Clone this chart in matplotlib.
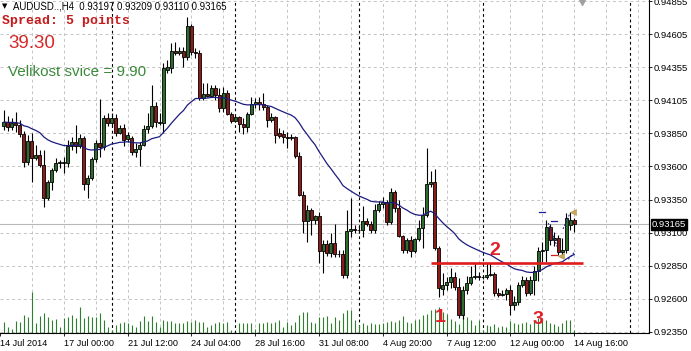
import numpy as np
import pandas as pd
import matplotlib.pyplot as plt
from matplotlib.patches import Rectangle
from matplotlib.transforms import blended_transform_factory

# AUDUSD H4, bars from 14 Jul 2014 12:00 to 14 Aug 2014 16:00 (prices)
opens = [0.93909, 0.93939, 0.93902, 0.93932, 0.93917, 0.93849, 0.93637, 0.93796, 0.93667, 0.93690,
         0.93614, 0.93364, 0.93485, 0.93576, 0.93629, 0.93637, 0.93629, 0.93758, 0.93788, 0.93758,
         0.93818, 0.93470, 0.93515, 0.93659, 0.93780, 0.93750, 0.93970, 0.93932, 0.93970, 0.93856,
         0.93894, 0.93811, 0.93818, 0.93712, 0.93735, 0.93765, 0.93886, 0.93909, 0.94061, 0.93939,
         0.93932, 0.94333, 0.94348, 0.94477, 0.94462, 0.94477, 0.94431, 0.94666, 0.94469, 0.94462,
         0.94121, 0.94151, 0.94136, 0.94197, 0.94144, 0.94045, 0.94159, 0.94000, 0.93947, 0.93977,
         0.93924, 0.93902, 0.94000, 0.94076, 0.94091, 0.94076, 0.94053, 0.93955, 0.93977, 0.93856,
         0.93849, 0.93826, 0.93818, 0.93826, 0.93682, 0.93387, 0.93190, 0.93273, 0.93198, 0.93228,
         0.92963, 0.93016, 0.92948, 0.93023, 0.92940, 0.92940, 0.92781, 0.93114, 0.93129, 0.93122,
         0.93122, 0.93190, 0.93167, 0.93122, 0.93273, 0.93319, 0.93334, 0.93182, 0.93410, 0.93288,
         0.93076, 0.92970, 0.93046, 0.92963, 0.93054, 0.93137, 0.93235, 0.93470, 0.93485, 0.92986,
         0.92675, 0.92706, 0.92728, 0.92766, 0.92690, 0.92478, 0.92668, 0.92721, 0.92766, 0.92774,
         0.92766, 0.92766, 0.92781, 0.92789, 0.92645, 0.92630, 0.92637, 0.92668, 0.92554, 0.92577,
         0.92706, 0.92743, 0.92645, 0.92743, 0.92811, 0.92963, 0.92970, 0.93145, 0.93046, 0.93061,
         0.92955, 0.92970, 0.93160, 0.93197]
highs = [0.94030, 0.93985, 0.93970, 0.94015, 0.93955, 0.93871, 0.93841, 0.93856, 0.93765, 0.93727,
         0.93727, 0.93500, 0.93591, 0.93667, 0.93652, 0.93674, 0.93803, 0.93826, 0.93917, 0.93849,
         0.93833, 0.93538, 0.93674, 0.93803, 0.94114, 0.93992, 0.94008, 0.94008, 0.94000, 0.93917,
         0.93924, 0.93864, 0.93833, 0.93780, 0.93788, 0.93917, 0.94008, 0.94220, 0.94091, 0.94008,
         0.94386, 0.94409, 0.94537, 0.94545, 0.94507, 0.94507, 0.94734, 0.94681, 0.94500, 0.94484,
         0.94235, 0.94235, 0.94220, 0.94220, 0.94197, 0.94204, 0.94182, 0.94015, 0.93992, 0.93985,
         0.93970, 0.94015, 0.94129, 0.94121, 0.94129, 0.94159, 0.94068, 0.94008, 0.93985, 0.93894,
         0.93879, 0.93864, 0.93849, 0.93833, 0.93712, 0.93417, 0.93311, 0.93288, 0.93235, 0.93258,
         0.93046, 0.93046, 0.93099, 0.93167, 0.92970, 0.92970, 0.93273, 0.93364, 0.93160, 0.93152,
         0.93304, 0.93213, 0.93190, 0.93319, 0.93341, 0.93372, 0.93349, 0.93440, 0.93425, 0.93349,
         0.93084, 0.93061, 0.93076, 0.93061, 0.93198, 0.93296, 0.93743, 0.93568, 0.93584, 0.93001,
         0.92796, 0.92766, 0.92834, 0.92804, 0.92758, 0.92698, 0.92774, 0.92849, 0.92872, 0.92804,
         0.92781, 0.92872, 0.92872, 0.92804, 0.92683, 0.92668, 0.92683, 0.92706, 0.92622, 0.92728,
         0.92774, 0.92766, 0.92774, 0.92849, 0.92993, 0.93031, 0.93198, 0.93167, 0.93107, 0.93084,
         0.93061, 0.93251, 0.93258, 0.93209]
lows = [0.93879, 0.93871, 0.93879, 0.93864, 0.93826, 0.93599, 0.93614, 0.93485, 0.93652, 0.93599,
        0.93296, 0.93349, 0.93425, 0.93561, 0.93591, 0.93553, 0.93599, 0.93727, 0.93705, 0.93743,
        0.93425, 0.93364, 0.93500, 0.93637, 0.93674, 0.93727, 0.93909, 0.93909, 0.93833, 0.93849,
        0.93758, 0.93788, 0.93690, 0.93674, 0.93606, 0.93758, 0.93856, 0.93894, 0.93902, 0.93917,
        0.93856, 0.94310, 0.94310, 0.94447, 0.94447, 0.94356, 0.94409, 0.94447, 0.94424, 0.94106,
        0.94106, 0.94129, 0.94129, 0.94106, 0.94015, 0.94015, 0.93992, 0.93932, 0.93939, 0.93864,
        0.93849, 0.93864, 0.93992, 0.94045, 0.94030, 0.94030, 0.93902, 0.93939, 0.93780, 0.93818,
        0.93780, 0.93743, 0.93803, 0.93667, 0.93379, 0.93099, 0.93031, 0.93084, 0.93167, 0.92872,
        0.92796, 0.92925, 0.92917, 0.92917, 0.92917, 0.92758, 0.92758, 0.93069, 0.93099, 0.93099,
        0.93069, 0.93152, 0.93099, 0.93099, 0.93258, 0.93288, 0.93160, 0.93167, 0.93258, 0.93069,
        0.92948, 0.92948, 0.92917, 0.92948, 0.93039, 0.92986, 0.93220, 0.93447, 0.92970, 0.92615,
        0.92630, 0.92668, 0.92683, 0.92668, 0.92456, 0.92448, 0.92637, 0.92706, 0.92751, 0.92743,
        0.92751, 0.92751, 0.92774, 0.92622, 0.92615, 0.92622, 0.92592, 0.92478, 0.92516, 0.92554,
        0.92690, 0.92622, 0.92630, 0.92630, 0.92736, 0.92880, 0.92880, 0.93008, 0.93001, 0.92933,
        0.92917, 0.92948, 0.93122, 0.93110]
closes = [0.93939, 0.93902, 0.93932, 0.93917, 0.93849, 0.93637, 0.93796, 0.93667, 0.93690, 0.93614,
          0.93364, 0.93485, 0.93576, 0.93629, 0.93637, 0.93629, 0.93758, 0.93788, 0.93758, 0.93818,
          0.93470, 0.93515, 0.93659, 0.93780, 0.93750, 0.93970, 0.93932, 0.93970, 0.93856, 0.93894,
          0.93803, 0.93841, 0.93712, 0.93735, 0.93765, 0.93886, 0.93909, 0.94061, 0.93939, 0.93932,
          0.94348, 0.94356, 0.94477, 0.94462, 0.94477, 0.94431, 0.94666, 0.94469, 0.94462, 0.94121,
          0.94151, 0.94136, 0.94197, 0.94144, 0.94045, 0.94159, 0.94000, 0.93947, 0.93977, 0.93924,
          0.93902, 0.94000, 0.94076, 0.94091, 0.94076, 0.94053, 0.93955, 0.93977, 0.93841, 0.93833,
          0.93826, 0.93818, 0.93826, 0.93682, 0.93387, 0.93190, 0.93273, 0.93198, 0.93228, 0.92963,
          0.93016, 0.92948, 0.93023, 0.92940, 0.92943, 0.92781, 0.93114, 0.93129, 0.93122, 0.93125,
          0.93190, 0.93167, 0.93122, 0.93273, 0.93319, 0.93334, 0.93182, 0.93410, 0.93288, 0.93076,
          0.92970, 0.93046, 0.92963, 0.93054, 0.93137, 0.93235, 0.93470, 0.93485, 0.92986, 0.92683,
          0.92706, 0.92728, 0.92766, 0.92690, 0.92478, 0.92668, 0.92721, 0.92766, 0.92774, 0.92766,
          0.92768, 0.92781, 0.92789, 0.92645, 0.92630, 0.92637, 0.92668, 0.92554, 0.92577, 0.92706,
          0.92743, 0.92645, 0.92743, 0.92811, 0.92963, 0.92970, 0.93145, 0.93046, 0.93061, 0.92955,
          0.92970, 0.93213, 0.93198, 0.93165]
tick_volume = [11, 6, 4, 12, 11, 18, 16, 41, 10, 17, 20, 16, 13, 14, 6, 15, 16, 18, 15, 26,
               15, 17, 16, 16, 20, 13, 6, 3, 8, 10, 11, 10, 8, 6, 12, 17, 12, 17, 11, 6,
               13, 12, 12, 10, 10, 10, 12, 11, 13, 11, 11, 6, 8, 10, 11, 10, 11, 3, 1, 10,
               10, 10, 10, 4, 10, 10, 11, 10, 11, 13, 6, 11, 8, 11, 18, 21, 21, 11, 10, 16,
               16, 17, 10, 16, 13, 20, 23, 23, 13, 8, 10, 8, 10, 9, 9, 10, 11, 12, 11, 13,
               17, 11, 10, 13, 14, 18, 19, 23, 24, 26, 21, 19, 14, 12, 9, 17, 16, 13, 8, 13,
               3, 8, 7, 9, 6, 7, 6, 12, 10, 9, 10, 11, 9, 13, 15, 15, 13, 10, 9, 7,
               10, 13, 13, 3]

date_ticks = [-1, 15, 31, 47, 63, 79, 95, 111, 127, 143]
date_labels = ['14 Jul 2014', '17 Jul 00:00', '21 Jul 12:00', '24 Jul 04:00', '28 Jul 16:00',
               '31 Jul 08:00', '4 Aug 20:00', '7 Aug 12:00', '12 Aug 00:00', '14 Aug 16:00']
week_starts = [27, 58, 89, 120, 157]
price_labels = ['0.92350', '0.92600', '0.92850', '0.93100', '0.93350',
                '0.93600', '0.93850', '0.94105', '0.94355', '0.94605']
bid = 0.93165
level = 0.92875
swing_points = [(109.5, 0.92425, '1'), (123, 0.92933, '2'), (133.9, 0.92410, '3')]
# small indicator marks near the last bars: (bar, price)
blue_dashes = [(135, 0.93258), (138, 0.93190)]
red_dashes = [(138, 0.92933)]
gold_arrows = [(139.6, 0.92925), (142.6, 0.93258)]
blue_dotted = [[(136.5, 0.93175), (138.8, 0.92990)], [(140.2, 0.93130), (141.8, 0.93240)],
               [(141.5, 0.92900), (143.2, 0.92960)]]

BULL = '#2e6b2e'
BEAR = '#8c1c1c'

fig = plt.figure(figsize=(6.91, 3.51), dpi=100)
ax = fig.add_axes([0, 18 / 351, 649 / 691, 333 / 351])
ymin, ymax = 0.923422, 0.94863
ax.set_xlim(-0.5, 161.75)
ax.set_ylim(ymin, ymax)

# grid
grid_y = list(np.linspace(0.92350, 0.94605, 10)) + [0.94855]
for y in grid_y:
    ax.axhline(y, color='#c4c4c4', lw=0.7, ls=(0, (3, 3)), zorder=0)
for x in range(7, 162, 8):
    ax.axvline(x, color='#c4c4c4', lw=0.7, ls=(0, (3, 3)), zorder=0)
for x in week_starts:
    ax.axvline(x, color='black', lw=0.8, ls=(0, (2.5, 2.5)), zorder=1)

n = len(closes)
idx = np.arange(n)
o, h, l, c = (np.array(a) for a in (opens, highs, lows, closes))

# volumes along the bottom
vol = np.array(tick_volume, float)
vol_h = vol / vol.max() * 41 * (ymax - ymin) / 333
ax.vlines(idx, ymin, ymin + vol_h, color='#2f7f2f', lw=0.8, zorder=2)

ax.axhline(bid, color='#b8b8b8', lw=0.8, zorder=2)

# candles
ax.vlines(idx, l, h, color='black', lw=0.8, zorder=3)
for i in idx:
    bottom = min(o[i], c[i])
    height = abs(c[i] - o[i])
    face = BULL if c[i] >= o[i] else BEAR
    ax.add_patch(Rectangle((i - 0.375, bottom), 0.75, height, facecolor=face,
                           edgecolor='black', lw=0.6, zorder=4))

ma = pd.Series(c).ewm(span=30, adjust=False).mean()
ax.plot(idx, ma, color='#1c1c80', lw=0.9, zorder=5)

# indicator marks
for x, y in blue_dashes:
    ax.plot([x - 0.75, x + 0.75], [y, y], color='#1c1c9c', lw=0.9, zorder=6)
for x, y in red_dashes:
    ax.plot([x - 0.75, x + 0.75], [y, y], color='#d02020', lw=0.9, zorder=6)
for x, y in gold_arrows:
    ax.plot([x], [y], marker='<', color='#c8a860', ms=4, mec='#b09040', mew=0.4, zorder=7)
for seg in blue_dotted:
    xs, ys = zip(*seg)
    ax.plot(xs, ys, color='#1c1c9c', lw=0.7, ls=(0, (2, 1.5)), zorder=6)

# support line and numbered points
ax.plot([107, 145.25], [level, level], color='#e01c1c', lw=1.9, zorder=6, solid_capstyle='butt')
for x, y, t in swing_points:
    ax.text(x, y, t, color='#e2202a', fontsize=14, fontweight='bold',
            ha='center', va='baseline', family='Liberation Sans', zorder=7)

# chart shift marker
ax.plot([145], [ymax - 0.00012], marker='v', color='#a0a0a0', ms=5, zorder=7, clip_on=False)

# axes
for s in ['top', 'left']:
    ax.spines[s].set_visible(False)
for s in ['right', 'bottom']:
    ax.spines[s].set_color('black')
    ax.spines[s].set_linewidth(0.8)
ax.yaxis.tick_right()
ax.set_yticks(grid_y)
ax.set_yticklabels(price_labels + ['0.94855'])
ax.tick_params(axis='y', length=2.5, width=0.6, pad=1, labelsize=6.8)
ax.set_xticks(date_ticks)
ax.set_xticklabels(date_labels)
ax.tick_params(axis='x', length=2.5, width=0.6, pad=1.5, labelsize=6.6)
for lab in ax.get_xticklabels():
    lab.set_horizontalalignment('left')
for lab in ax.get_xticklabels() + ax.get_yticklabels():
    lab.set_family('Liberation Sans')

tr = blended_transform_factory(ax.transAxes, ax.transData)
ax.text(1 + 3 / 649, bid, '0.93165', transform=tr, color='white', fontsize=6.8,
        family='Liberation Sans', va='center', ha='left', zorder=8,
        bbox=dict(boxstyle='square,pad=0.12', fc='black', ec='black'))

# header texts
def fpos(x, y):
    return x / 691, 1 - y / 351

fig.text(*fpos(4.5, 6), '\u25bc', fontsize=5, ha='center', va='center', color='black')
fig.text(*fpos(13, 9.5), 'AUDUSD..,H4  0.93197 0.93209 0.93110 0.93165', fontsize=6.9,
         family='Liberation Sans', va='baseline', color='black')
fig.text(*fpos(2, 24), 'Spread: 5 points', fontsize=9.5, family='Liberation Mono',
         fontweight='bold', va='baseline', color='#c41c1c')
fig.text(*fpos(8, 48), '39.30', fontsize=13.5, family='Liberation Sans',
         va='baseline', color='#d62828')
fig.text(*fpos(8, 75.5), 'Velikost svice = 9.90', fontsize=11, family='Liberation Sans',
         va='baseline', color='#3a8a3a')

fig.savefig('out.png', dpi=100)
